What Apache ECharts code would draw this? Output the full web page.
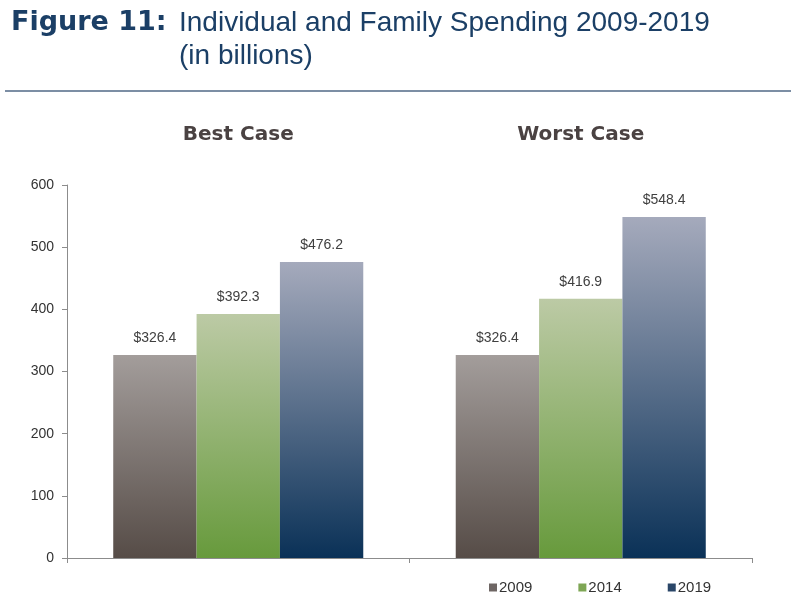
<!DOCTYPE html>
<html style="height: 100%">
<head>
	<meta charset="utf-8">
	<title>Figure 11</title>
	<script type="text/javascript" src="https://cdn.jsdelivr.net/npm/echarts@6/dist/echarts.min.js"></script>
</head>
<body style="height: 100%; margin: 0; background: #fff">
<div id="container" style="width: 800px; height: 595px"></div>
<script type="text/javascript">
	var cases = ['Best Case', 'Worst Case'];
	var years = ['2009', '2014', '2019'];
	var spend2009 = [326.4, 326.4];
	var spend2014 = [392.3, 416.9];
	var spend2019 = [476.2, 548.4];
	var yTicks = [0, 100, 200, 300, 400, 500, 600];

	var myChart = echarts.init(document.getElementById('container'));

	function grad(top, bottom) {
		return new echarts.graphic.LinearGradient(0, 0, 0, 1, [
			{offset: 0, color: top},
			{offset: 1, color: bottom}
		]);
	}

	function barSeries(name, values, top, bottom) {
		return {
			name: name,
			type: 'bar',
			xAxisIndex: 0,
			data: values,
			barGap: '0%',
			barCategoryGap: '27%',
			itemStyle: {color: grad(top, bottom)},
			label: {
				show: true,
				position: 'top',
				distance: 10,
				color: '#404040',
				fontSize: 14,
				fontFamily: 'Liberation Sans',
				formatter: function (p) { return '$' + p.value.toFixed(1); }
			}
		};
	}

	var option = {
		backgroundColor: '#fff',
		animation: false,
		title: [{
			text: 'Figure 11:',
			left: 6,
			top: 4,
			textStyle: {color: '#1b3f66', fontSize: 27, fontWeight: 'bold', fontFamily: 'DejaVu Sans'}
		}, {
			text: 'Individual and Family Spending 2009-2019\n(in billions)',
			left: 174,
			top: 2,
			textStyle: {color: '#1b3f66', fontSize: 28, fontWeight: 'normal', fontFamily: 'Liberation Sans', lineHeight: 33}
		}],
		graphic: [{
			type: 'line',
			shape: {x1: 5, y1: 91, x2: 791, y2: 91},
			style: {stroke: '#7c8ea4', lineWidth: 2}
		}],
		legend: {
			left: 484,
			top: 575,
			itemWidth: 8,
			itemHeight: 8,
			itemGap: 46,
			icon: 'rect',
			textStyle: {color: '#333', fontSize: 15, fontFamily: 'Liberation Sans', padding: [0, 0, 0, -3]},
			data: [
				{name: years[0], itemStyle: {color: '#6e6664'}},
				{name: years[1], itemStyle: {color: '#7ea655'}},
				{name: years[2], itemStyle: {color: '#2a4668'}}
			]
		},
		grid: {left: 67, right: 48, top: 185, bottom: 37},
		xAxis: [{
			type: 'category',
			data: cases,
			position: 'bottom',
			axisLine: {lineStyle: {color: '#8c8c8c'}},
			axisTick: {show: true, length: 5, lineStyle: {color: '#8c8c8c'}},
			axisLabel: {show: false}
		}, {
			type: 'category',
			data: cases,
			position: 'top',
			axisLine: {show: false},
			axisTick: {show: false},
			axisLabel: {
				margin: 40,
				color: '#4a4242',
				fontSize: 20,
				fontWeight: 'bold',
				fontFamily: 'DejaVu Sans'
			}
		}],
		yAxis: {
			type: 'value',
			min: yTicks[0],
			max: yTicks[yTicks.length - 1],
			interval: 100,
			splitLine: {show: false},
			axisLine: {show: true, lineStyle: {color: '#8c8c8c'}},
			axisTick: {show: true, length: 5, lineStyle: {color: '#8c8c8c'}},
			axisLabel: {color: '#333', fontSize: 14, fontFamily: 'Liberation Sans', margin: 13}
		},
		series: [
			barSeries(years[0], spend2009, '#a39d9b', '#564c47'),
			barSeries(years[1], spend2014, '#bccaa5', '#679a3c'),
			barSeries(years[2], spend2019, '#a5aabc', '#0a3157')
		]
	};

	myChart.setOption(option);
</script>
</body>
</html>
